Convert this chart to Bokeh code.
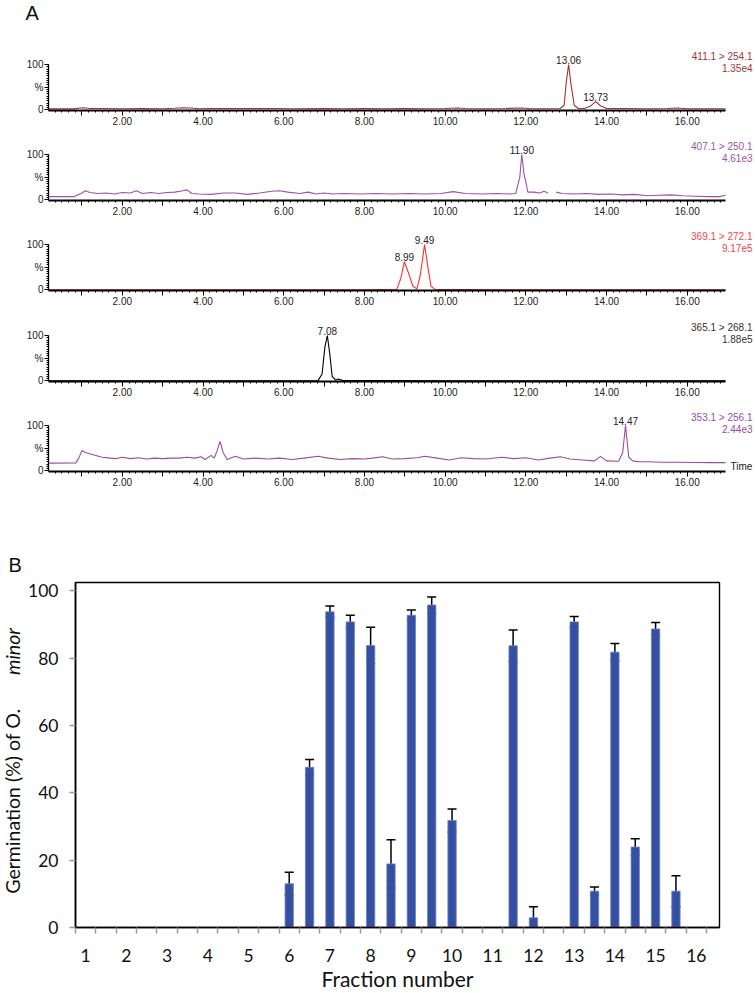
from bokeh.plotting import figure
from bokeh.models import Range1d, FixedTicker, Label, ColumnDataSource, Whisker, TeeHead, Title, Spacer
from bokeh.layouts import column, row
from bokeh.embed import file_html
from bokeh.resources import INLINE
import math

# ---------------- Panel A data (retention time [min], relative intensity [%]) ----------------
t_411 = [0.17, 0.8, 0.95, 1.05, 1.2, 1.5, 2.0, 2.5, 3.0, 3.3, 3.5, 3.7, 3.9, 4.2, 5.0, 5.8, 6.2, 7.0, 7.5,
         8.0, 8.5, 9.0, 9.5, 10.0, 10.3, 10.5, 11.0, 11.5, 11.9, 12.1, 12.5, 12.85, 12.95, 13.0, 13.06,
         13.12, 13.2, 13.3, 13.45, 13.6, 13.73, 13.85, 14.0, 14.5, 15.0, 15.5, 15.75, 16.0, 16.5, 16.95]
i_411 = [2, 2, 4, 4.5, 3, 3, 2.5, 3, 2.5, 3.5, 4.5, 4, 2.5, 3, 3, 3, 2.5, 3, 2.5,
         3, 2.5, 3, 2.5, 3, 4, 3, 2.5, 3, 4, 2.5, 2.5, 3, 10, 60, 100,
         55, 10, 3, 3, 8, 18, 9, 3, 3, 2.5, 3, 4, 2.5, 2.5, 2.5]

t_407 = [0.17, 0.8, 1.0, 1.08, 1.2, 1.4, 1.6, 1.8, 2.0, 2.2, 2.35, 2.5, 2.7, 2.9, 3.1, 3.3, 3.5, 3.6, 3.72,
         3.9, 4.2, 4.5, 4.8, 5.1, 5.4, 5.7, 5.9, 6.1, 6.4, 6.6, 6.8, 7.0, 7.2, 7.5, 7.9, 8.3, 8.7, 9.1,
         9.5, 9.9, 10.2, 10.5, 10.9, 11.3, 11.6, 11.75, 11.85, 11.9, 11.95, 12.05, 12.2, 12.35, 12.45,
         12.55, 12.65, 12.75, 12.9, 13.2, 13.5, 13.8, 14.1, 14.4, 14.7, 15.0, 15.3, 15.6, 15.9, 16.2,
         16.5, 16.8, 16.95]
i_407 = [7, 7, 15, 20, 16, 14, 15, 13, 16, 15, 20, 14, 16, 14, 16, 17, 20, 22, 14,
         13, 12, 15, 15, 12, 15, 19, 20, 17, 14, 17, 13, 15, 13, 14, 13, 14, 13, 14,
         13, 14, 18, 14, 13, 14, 13, 14, 50, 100, 60, 17, 17, 15, 19,
         15, float("nan"), 17, 14, 13, 14, 12, 13, 11, 12, 9, 10, 11, 9, 8,
         7, 7, 10]

t_369 = [0.17, 4.0, 8.0, 8.8, 8.9, 8.99, 9.08, 9.2, 9.3, 9.38, 9.49, 9.58, 9.65, 9.75, 12.0, 16.95]
i_369 = [0, 0, 0, 1, 25, 62, 40, 8, 2, 30, 100, 45, 8, 1, 0, 0]

t_365 = [0.17, 4.0, 6.85, 6.95, 7.02, 7.08, 7.14, 7.2, 7.28, 7.35, 7.45, 10.0, 16.95]
i_365 = [0, 0, 0.5, 15, 75, 100, 60, 10, 2, 4, 1, 0, 0]

t_353 = [0.17, 0.85, 0.92, 1.0, 1.1, 1.3, 1.5, 1.7, 1.85, 2.0, 2.2, 2.4, 2.6, 2.8, 3.0, 3.2, 3.4, 3.6,
         3.8, 3.95, 4.05, 4.2, 4.28, 4.35, 4.42, 4.5, 4.6, 4.8, 5.0, 5.3, 5.6, 5.9, 6.2, 6.5, 6.85, 7.1,
         7.4, 7.7, 8.0, 8.2, 8.45, 8.7, 9.0, 9.3, 9.5, 9.8, 10.1, 10.4, 10.7, 11.0, 11.4, 11.7, 12.0,
         12.3, 12.6, 12.85, 13.1, 13.4, 13.7, 13.85, 14.0, 14.3, 14.4, 14.47, 14.55, 14.65, 14.8, 15.0,
         15.4, 15.8, 16.2, 16.6, 16.95]
i_353 = [17, 17.5, 28, 45, 40, 35, 30, 28, 27, 30, 27, 29, 26, 28, 27, 28, 28, 30,
         28, 31, 25, 34, 28, 45, 65, 40, 25, 32, 26, 28, 26, 28, 25, 28, 32, 28,
         25, 27, 26, 28, 31, 26, 27, 29, 32, 28, 24, 29, 27, 26, 30, 27, 29,
         24, 28, 31, 26, 24, 22, 32, 22, 21, 40, 100, 30, 22, 20, 20,
         19, 19, 18.5, 18, 18]

transitions = ["411.1 > 254.1", "407.1 > 250.1", "369.1 > 272.1", "365.1 > 268.1", "353.1 > 256.1"]
intensities = ["1.35e4", "4.61e3", "9.17e5", "1.88e5", "2.44e3"]
peak_rt = [[13.06, 13.73], [11.90], [8.99, 9.49], [7.08], [14.47]]
peak_int = [[100, 18], [100], [62, 100], [100], [100]]
x_tick_labels = ["2.00", "4.00", "6.00", "8.00", "10.00", "12.00", "14.00", "16.00"]

# ---------------- Panel B data ----------------
fractions = [6, 6.5, 7, 7.5, 8, 8.5, 9, 9.5, 10, 11.5, 12, 13, 13.5, 14, 14.5, 15, 15.5]
germination = [13.0, 47.6, 93.8, 90.8, 83.8, 18.9, 92.8, 95.8, 31.8, 83.7, 2.9, 90.8, 10.8, 81.8, 23.9, 88.7, 10.8]
germ_err = [3.4, 2.3, 1.7, 2.0, 5.4, 7.2, 1.5, 2.4, 3.4, 4.7, 3.3, 1.6, 1.2, 2.6, 2.5, 1.9, 4.6]
fraction_labels = [str(i) for i in range(1, 17)]
y_ticks_b = [0, 20, 40, 60, 80, 100]

# ---------------- styling / layout constants ----------------
W = 755
TOTAL_H = 993
SANS = "Liberation Sans"
LATO = "Lato"
trace_colors = ["#a3303a", "#a050a8", "#ff3030", "#000000", "#9a4aa0"]
text_colors = ["#a0343c", "#9a55a5", "#f04848", "#333333", "#9450a0"]

XMIN, XMAX_AX = 0.17, 16.95
YMIN = -1.5
PX_X = 40.35           # px per minute
PX_Y = 46 / 101.5      # px per % unit
BL, BR = 48, 2
XMAX = XMIN + (W - BL - BR) / PX_X


def px2t(px):
    return XMIN + (px - BL) / PX_X


def chrom(k, t, inten, top, frame_h, bottom):
    ymax = YMIN + frame_h / PX_Y
    p = figure(width=W, height=top + frame_h + bottom,
               x_range=Range1d(XMIN, XMAX), y_range=Range1d(YMIN, ymax),
               output_backend="svg", toolbar_location=None,
               min_border_left=BL, min_border_right=BR,
               min_border_top=top, min_border_bottom=bottom)
    p.grid.visible = False
    p.outline_line_color = None
    p.background_fill_color = "white"
    p.border_fill_color = "white"
    p.line(t, inten, line_color=trace_colors[k], line_width=1.1)

    xa = p.xaxis[0]
    xa.bounds = (XMIN, XMAX_AX)
    xa.ticker = FixedTicker(ticks=list(range(1, 17)),
                            minor_ticks=[i / 6 for i in range(2, 102)])
    xa.major_label_overrides = {i: (x_tick_labels[i // 2 - 1] if i % 2 == 0 else "") for i in range(1, 17)}
    xa.major_tick_out = 5
    xa.major_tick_in = 0
    xa.minor_tick_out = 2
    xa.minor_tick_in = 0
    xa.major_label_standoff = 1
    xa.major_label_text_font = SANS
    xa.major_label_text_font_size = "10px"
    xa.major_label_text_color = "#222222"
    xa.axis_line_width = 1.8
    xa.major_tick_line_width = 1
    xa.minor_tick_line_width = 1

    ya = p.yaxis[0]
    ya.bounds = (YMIN, 100)
    ya.ticker = FixedTicker(ticks=[0, 50, 100], minor_ticks=list(range(0, 101, 5)))
    ya.major_label_overrides = {0: "0", 50: "%", 100: "100"}
    ya.major_tick_out = 4
    ya.major_tick_in = 0
    ya.minor_tick_out = 2
    ya.minor_tick_in = 0
    ya.major_label_standoff = 1
    ya.major_label_text_font = SANS
    ya.major_label_text_font_size = "10px"
    ya.major_label_text_color = "#222222"
    ya.axis_line_width = 1.3

    xr = px2t(752)
    p.add_layout(Label(x=xr, y=YMIN + 54.5 / PX_Y, text=transitions[k], text_align="right",
                       text_baseline="middle", text_font=SANS, text_font_size="10px",
                       text_color=text_colors[k]))
    p.add_layout(Label(x=xr, y=YMIN + 42.5 / PX_Y, text=intensities[k], text_align="right",
                       text_baseline="middle", text_font=SANS, text_font_size="10px",
                       text_color=text_colors[k]))
    for rt, h in zip(peak_rt[k], peak_int[k]):
        p.add_layout(Label(x=rt, y=h + 0.5, text="%.2f" % rt, text_align="center",
                           text_baseline="bottom", text_font=SANS, text_font_size="10px",
                           text_color="#222222"))
    return p


series = [(t_411, i_411), (t_407, i_407), (t_369, i_369), (t_365, i_365), (t_353, i_353)]
tops = [25, 4, 4, 5, 4]
frames = [85, 62, 62, 62, 62]
bottoms = [24, 24, 24, 24, 29]
figs = [chrom(k, series[k][0], series[k][1], tops[k], frames[k], bottoms[k]) for k in range(5)]
TOP_H = sum(tops) + sum(frames) + sum(bottoms)   # 500

figs[0].add_layout(Title(text="A", align="left", offset=-23, standoff=0, vertical_align="top",
                         text_font=SANS, text_font_size="20px", text_font_style="normal",
                         text_color="#111111"), "above")
figs[4].add_layout(Label(x=px2t(730), y=YMIN, text="Time", text_align="left",
                         text_baseline="bottom", text_font=SANS, text_font_size="10px",
                         text_color="#222222"))

# ---------------- Panel B ----------------
BX0, BX1 = 0.75, 16.57
BY0, BY1 = 0.0, 102.5
B_TOP = 82
B_FRAME_H = 347
B_H = TOTAL_H - TOP_H             # 493
B_BOT = B_H - B_TOP - B_FRAME_H   # 64
LBL_W = 25
B_BL, B_BR = 48, 2
B_FRAME_W = 646
B_W = B_BL + B_FRAME_W + B_BR
PX_BY = B_FRAME_H / (BY1 - BY0)
REF_ZERO = TOP_H + B_TOP + B_FRAME_H   # 929


def ref_y_to_b(ref_y):
    return (REF_ZERO - ref_y) / PX_BY


pb = figure(width=B_W, height=B_H, x_range=Range1d(BX0, BX1), y_range=Range1d(BY0, BY1),
            output_backend="svg", toolbar_location=None,
            min_border_left=B_BL, min_border_right=B_BR, min_border_top=B_TOP, min_border_bottom=B_BOT)
pb.grid.visible = False
pb.outline_line_color = "black"
pb.outline_line_width = 1.4
pb.background_fill_color = "white"
pb.border_fill_color = "white"

src = ColumnDataSource(dict(
    f=fractions, g=germination,
    up=[g + e for g, e in zip(germination, germ_err)],
    lo=[max(0.0, g - e) for g, e in zip(germination, germ_err)],
))
pb.vbar(x="f", top="g", width=0.205, bottom=0, source=src,
        fill_color="#3550a0", line_color="#6f82c4", line_width=0.8)
pb.add_layout(Whisker(base="f", upper="up", lower="lo", source=src, line_color="black", line_width=1.5,
                      upper_head=TeeHead(size=9, line_color="black", line_width=1.5),
                      lower_head=TeeHead(size=9, line_color="black", line_width=1.5)))

xb = pb.xaxis[0]
xb.ticker = FixedTicker(ticks=list(range(1, 17)), minor_ticks=[0.75 + 0.5 * k for k in range(32)])
xb.major_label_overrides = {i + 1: fraction_labels[i] for i in range(16)}
xb.major_tick_out = 0
xb.major_tick_in = 0
xb.minor_tick_out = 6
xb.minor_tick_in = 0
xb.minor_tick_line_color = "#999999"
xb.minor_tick_line_width = 1.5
xb.major_label_standoff = 15
xb.major_label_text_font = LATO
xb.major_label_text_font_size = "17.5px"
xb.major_label_text_color = "#111111"
xb.axis_line_width = 1.6
xb.axis_line_color = "black"
xb.axis_label = "Fraction number"
xb.axis_label_standoff = 1
xb.axis_label_text_font = LATO
xb.axis_label_text_font_size = "21px"
xb.axis_label_text_font_style = "normal"
xb.axis_label_text_color = "#111111"

yb = pb.yaxis[0]
yb.ticker = FixedTicker(ticks=y_ticks_b)
yb.major_tick_out = 6
yb.major_tick_in = 0
yb.minor_tick_line_color = None
yb.major_tick_line_color = "#999999"
yb.major_tick_line_width = 1.5
yb.major_label_standoff = 11
yb.major_label_text_font = LATO
yb.major_label_text_font_size = "17.5px"
yb.major_label_text_color = "#111111"
yb.axis_line_width = 1.6
yb.axis_line_color = "black"

# narrow figure holding the y-axis title (with italic species name) and the panel letter
pl = figure(width=LBL_W, height=B_H, x_range=Range1d(0, LBL_W), y_range=Range1d(BY0, BY1),
            output_backend="svg", toolbar_location=None, x_axis_type=None, y_axis_type=None,
            min_border_left=0, min_border_right=0, min_border_top=B_TOP, min_border_bottom=B_BOT)
pl.outline_line_color = None
pl.background_fill_color = "white"
pl.border_fill_color = "white"
pl.add_layout(Label(x=12, y=ref_y_to_b(895), text="Germination (%) of O.", angle=math.pi / 2,
                    text_align="left", text_baseline="middle", text_font=LATO,
                    text_font_size="19.5px", text_color="#111111"))
pl.add_layout(Label(x=12, y=ref_y_to_b(675), text="minor", angle=math.pi / 2,
                    text_align="left", text_baseline="middle", text_font=LATO,
                    text_font_style="italic", text_font_size="19.5px", text_color="#111111"))
pl.add_layout(Title(text="B", align="left", offset=8, standoff=10, vertical_align="top",
                    text_font=SANS, text_font_size="20px", text_font_style="normal",
                    text_color="#111111"), "above")

top_part = column(*figs, spacing=0)
bottom_part = row(pl, pb, Spacer(width=W - LBL_W - B_W, height=B_H), spacing=0)
open("out.html", "w").write(file_html([top_part, bottom_part], INLINE))
